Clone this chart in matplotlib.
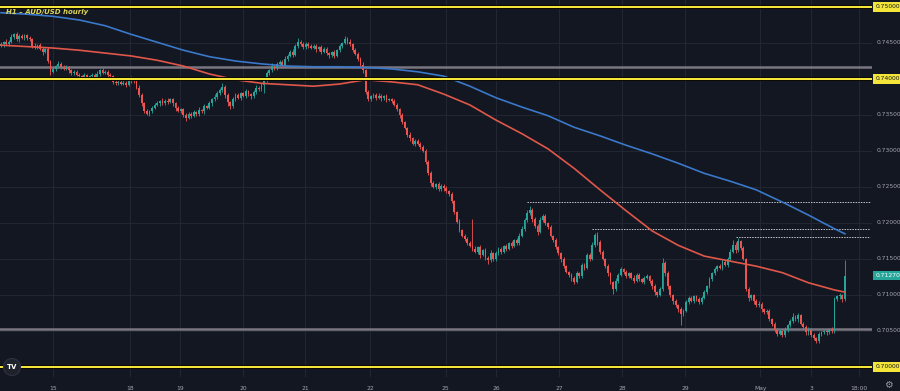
import numpy as np
import matplotlib; matplotlib.use("Agg")
import matplotlib.pyplot as plt
import matplotlib.transforms as mtrans
import matplotlib.patheffects as pe
from matplotlib.patches import Ellipse

# hourly closes in pips (0.0001), grouped by 10 bars
closes = [
    7448, 7451, 7449, 7452, 7458, 7462, 7455, 7460, 7457, 7461,
    7457, 7455, 7446, 7444, 7447, 7442, 7438, 7441, 7425, 7410,
    7414, 7418, 7421, 7417, 7414, 7416, 7412, 7408, 7410, 7406,
    7404, 7403, 7405, 7403, 7404, 7406, 7402, 7407, 7412, 7409,
    7410, 7406, 7404, 7396, 7394, 7396, 7393, 7395, 7392, 7397,
    7401, 7398, 7388, 7378, 7366, 7356, 7352, 7355, 7360, 7364,
    7366, 7369, 7366, 7370, 7368, 7372, 7366, 7360, 7356, 7358,
    7350, 7346, 7352, 7349, 7354, 7351, 7357, 7355, 7362, 7360,
    7366, 7372, 7375, 7380, 7385, 7389, 7378, 7368, 7362, 7372,
    7378, 7374, 7380, 7377, 7383, 7379, 7376, 7382, 7388, 7386,
    7392, 7398, 7408, 7412, 7418, 7415, 7421, 7424, 7418, 7428,
    7432, 7438, 7434, 7446, 7452, 7448, 7444, 7449, 7446, 7443,
    7446, 7441, 7444, 7438, 7442, 7436, 7433, 7437, 7432, 7440,
    7446, 7450, 7456, 7452, 7448, 7440, 7435, 7428, 7420, 7412,
    7382, 7372, 7376, 7378, 7374, 7377, 7373, 7376, 7371, 7372,
    7370, 7364, 7358, 7350, 7340, 7332, 7322, 7318, 7310, 7314,
    7310, 7306, 7300, 7285, 7270, 7255, 7250, 7254, 7247, 7252,
    7248, 7244, 7240, 7230, 7215, 7202, 7190, 7182, 7178, 7172,
    7168, 7164, 7160, 7166, 7156, 7162, 7152, 7148, 7158, 7150,
    7158, 7164, 7160, 7168, 7164, 7172, 7168, 7176, 7172, 7182,
    7192, 7204, 7214, 7218, 7206, 7196, 7188, 7204, 7210, 7200,
    7194, 7182, 7176, 7166, 7158, 7150, 7140, 7132, 7128, 7124,
    7118, 7130, 7126, 7142, 7138, 7156, 7150, 7170, 7184, 7174,
    7160, 7150, 7140, 7130, 7118, 7108, 7120, 7128, 7136, 7132,
    7126, 7130, 7124, 7120, 7128, 7122, 7118, 7124, 7126, 7120,
    7112, 7104, 7100, 7108, 7145, 7130, 7112, 7100, 7092, 7086,
    7080, 7074, 7078, 7090, 7096, 7092, 7098, 7094, 7090, 7096,
    7104, 7112, 7122, 7130, 7136, 7140, 7138, 7146, 7142, 7150,
    7160, 7170, 7162, 7175, 7165, 7150, 7108, 7096, 7100, 7092,
    7086, 7088, 7080, 7076, 7078, 7066, 7060, 7052, 7046, 7050,
    7044, 7052, 7058, 7064, 7070, 7066, 7072, 7060, 7056, 7048,
    7052, 7044, 7040, 7036, 7046, 7048, 7050, 7048, 7052, 7050,
    7094, 7098, 7100, 7094, 7127,
]
first_open = 7446
wick_up = [
    3, 2, 4, 2, 5, 2, 3, 2, 3, 2,   2, 3, 2, 4, 2, 3, 2, 2, 3, 2,
    3, 2, 4, 2, 2, 3, 2, 2, 3, 2,   2, 2, 3, 2, 2, 3, 2, 4, 2, 3,
    2, 3, 2, 2, 3, 2, 2, 3, 2, 5,   3, 2, 2, 3, 2, 2, 3, 2, 2, 3,
    3, 2, 4, 2, 3, 2, 2, 2, 3, 2,   2, 3, 2, 2, 3, 2, 4, 2, 3, 2,
    3, 2, 4, 3, 2, 5, 2, 3, 2, 3,   2, 3, 2, 2, 3, 2, 2, 3, 4, 2,
    3, 2, 3, 2, 4, 2, 3, 2, 3, 4,   3, 2, 4, 3, 5, 2, 3, 2, 3, 2,
    2, 3, 2, 3, 2, 3, 2, 2, 3, 2,   3, 2, 4, 2, 3, 2, 3, 2, 2, 3,
    2, 3, 2, 3, 2, 3, 2, 2, 3, 2,   2, 2, 3, 2, 3, 2, 2, 4, 2, 3,
    3, 2, 2, 3, 2, 2, 3, 2, 3, 2,   2, 3, 2, 3, 2, 2, 3, 2, 3, 2,
    3, 38, 4, 2, 3, 2, 3, 2, 5, 2,  3, 2, 3, 2, 3, 2, 3, 2, 3, 4,
    4, 3, 4, 6, 3, 2, 3, 4, 3, 2,   2, 3, 2, 3, 2, 2, 3, 2, 2, 3,
    2, 3, 2, 3, 2, 3, 2, 4, 2, 3,   3, 2, 2, 3, 2, 2, 3, 2, 3, 2,
    3, 2, 2, 4, 2, 3, 2, 2, 3, 2,   2, 3, 2, 3, 6, 2, 3, 2, 2, 2,
    2, 3, 2, 3, 2, 3, 2, 2, 3, 2,   3, 2, 3, 2, 3, 2, 3, 4, 2, 3,
    4, 6, 3, 4, 2, 3, 2, 3, 2, 2,   2, 3, 2, 2, 3, 2, 2, 3, 2, 3,
    2, 3, 2, 3, 5, 2, 3, 2, 2, 3,   3, 2, 3, 2, 3, 2, 2, 3, 2, 3,
    3, 2, 3, 2, 22,
]
wick_dn = [
    2, 3, 2, 3, 2, 3, 2, 4, 2, 3,   3, 2, 3, 2, 3, 2, 4, 2, 3, 4,
    2, 3, 2, 3, 2, 2, 3, 2, 3, 2,   3, 2, 2, 3, 2, 2, 3, 2, 3, 2,
    2, 3, 2, 3, 2, 3, 2, 2, 3, 2,   2, 3, 2, 3, 4, 3, 2, 3, 2, 2,
    2, 3, 2, 2, 3, 2, 3, 4, 2, 3,   3, 4, 2, 3, 2, 3, 2, 2, 3, 2,
    2, 3, 2, 3, 2, 3, 4, 5, 3, 2,   3, 2, 3, 2, 3, 2, 4, 2, 3, 2,
    3, 12, 2, 3, 2, 3, 2, 3, 2, 2,  3, 2, 3, 2, 3, 2, 3, 2, 3, 2,
    2, 3, 2, 3, 2, 3, 4, 2, 3, 2,   2, 3, 2, 3, 2, 3, 2, 3, 4, 3,
    3, 2, 3, 2, 3, 2, 3, 2, 3, 2,   3, 2, 3, 4, 3, 2, 3, 4, 2, 3,
    2, 3, 2, 3, 4, 3, 2, 3, 2, 3,   3, 2, 3, 2, 3, 2, 3, 2, 3, 2,
    2, 3, 2, 3, 4, 2, 3, 5, 2, 3,   3, 2, 3, 2, 3, 2, 3, 2, 3, 2,
    2, 3, 2, 3, 4, 3, 4, 2, 3, 3,   3, 2, 3, 2, 3, 4, 3, 2, 3, 4,
    3, 2, 3, 2, 3, 2, 3, 2, 3, 4,   3, 2, 3, 4, 3, 6, 2, 3, 2, 3,
    2, 3, 2, 3, 2, 3, 2, 3, 2, 3,   3, 4, 3, 2, 2, 3, 4, 3, 4, 3,
    4, 16, 3, 2, 3, 2, 3, 2, 3, 2,  2, 3, 2, 3, 2, 3, 2, 3, 2, 3,
    3, 2, 3, 2, 3, 2, 3, 4, 3, 4,   3, 2, 3, 2, 3, 2, 3, 4, 3, 2,
    3, 2, 3, 2, 3, 2, 3, 2, 3, 4,   3, 2, 3, 3, 2, 3, 2, 3, 2, 3,
    3, 2, 3, 4, 2,
]

# moving averages read every 10 bars (pips)
ma_idx = list(range(0, 330, 10)) + [324]
ma_blue = [7492, 7490, 7487, 7482, 7474, 7462, 7451, 7440, 7431, 7425, 7421,
           7418, 7417, 7417, 7416, 7414, 7410, 7404, 7390, 7374, 7361, 7349,
           7333, 7321, 7308, 7296, 7283, 7269, 7258, 7246, 7229, 7211, 7192, 7185]
ma_red = [7447, 7445, 7443, 7440, 7436, 7432, 7426, 7418, 7407, 7399, 7394,
          7392, 7390, 7393, 7399, 7396, 7392, 7379, 7364, 7343, 7324, 7303,
          7276, 7246, 7217, 7189, 7169, 7154, 7147, 7140, 7131, 7117, 7107, 7104]

yellow_levels = [0.75, 0.74, 0.70]
gray_levels = [0.74167, 0.70528]
dotted_levels = [0.72292, 0.71917, 0.71806]
dotted_start = [202, 227, 282]
axis_prices = [0.745, 0.735, 0.730, 0.725, 0.720, 0.715, 0.710, 0.705]
last_price = 0.71270

day_pos = [20, 49.5, 68.7, 92.9, 116.7, 141.7, 170.8, 190, 214.2, 238.4, 262.6, 291.5, 311, 329.4]
day_lbl = ["15", "18", "19", "20", "21", "22", "25", "26", "27", "28", "29", "May", "3", "18:00"]

BG = "#131722"
UP, DN = "#26a69a", "#ef5350"

c = np.array(closes) / 1e4
o = np.concatenate([[first_open / 1e4], c[:-1]])
hi = np.maximum(o, c) + np.array(wick_up) / 1e4
lo = np.minimum(o, c) - np.array(wick_dn) / 1e4
x = np.arange(len(c))
cols = np.where(c >= o, UP, DN)

fig = plt.figure(figsize=(9, 3.91), dpi=100, facecolor=BG)
ax = fig.add_axes([0, 14 / 391, 872 / 900, 377 / 391])
ax.set_facecolor(BG)
for s in ax.spines.values():
    s.set_visible(False)
ax.set_xlim(-0.38, 334.4)
ax.set_ylim(0.698611, 0.750972)

ax.set_yticks(np.arange(0.700, 0.7501, 0.005))
ax.set_xticks(day_pos)
ax.set_xticklabels(day_lbl)
ax.tick_params(left=False, labelleft=False, bottom=False, labelsize=4.3,
               labelcolor="#a3a6af", pad=3)
ax.grid(True, color="#232733", lw=0.7)
ax.set_axisbelow(True)

# horizontal levels
for lv in gray_levels:
    ax.axhline(lv, color="#7a7680", lw=1.8, zorder=2)
for lv, x0 in zip(dotted_levels, dotted_start):
    ax.hlines(lv, x0, 333.8, color="#c4c4cc", lw=0.7, ls=(0, (1.5, 1.2)), zorder=2)
for lv in yellow_levels:
    ax.axhline(lv, color="#f3e53a", lw=1.5, zorder=4,
               path_effects=[pe.Stroke(linewidth=2.8, foreground="#000000"), pe.Normal()])

# candles
ax.vlines(x, lo, hi, colors=cols, lw=0.6, zorder=3)
ax.bar(x, np.maximum(np.abs(c - o), 0.00007), bottom=np.minimum(o, c), width=0.7,
       color=cols, linewidth=0, zorder=3)

ax.plot(ma_idx, np.array(ma_blue) / 1e4, color="#3a78c9", lw=1.2, zorder=3)
ax.plot(ma_idx, np.array(ma_red) / 1e4, color="#e0574a", lw=1.2, zorder=3)

# price scale
tr = mtrans.blended_transform_factory(ax.transAxes, ax.transData)
for p in axis_prices:
    ax.text(1.005, p, f"{p:.5f}", transform=tr, fontsize=4.3, color="#a3a6af",
            va="center", ha="left", clip_on=False)
for p in yellow_levels:
    ax.text(1.004, p, f"{p:.5f}", transform=tr, fontsize=4.3, color="#131722",
            va="center", ha="left", clip_on=False,
            bbox=dict(boxstyle="square,pad=0.35", fc="#f3e53a", ec="none"))
ax.text(1.004, last_price, f"{last_price:.5f}", transform=tr, fontsize=4.3, color="white",
        va="center", ha="left", clip_on=False,
        bbox=dict(boxstyle="square,pad=0.35", fc="#26a69a", ec="none"))

fig.text(6 / 900, 1 - 12 / 391, "H1 \u2013 AUD/USD hourly", fontsize=5, style="italic",
         weight="bold", color="#ddd55a", va="center")

# logo & settings icon
fig.patches.append(Ellipse((12 / 900, 1 - 367 / 391), 17 / 900, 17 / 391,
                           transform=fig.transFigure, fc="#1e222d", ec="#2e3240", lw=0.8, zorder=5))
fig.text(12 / 900, 1 - 367 / 391, "TV", fontsize=5, weight="bold", color="white",
         ha="center", va="center", zorder=6)
fig.text(888 / 900, 1 - 385 / 391, "\u2699", fontsize=7, color="#9598a1",
         ha="center", va="center")

fig.savefig("out.png", dpi=100, facecolor=BG)
